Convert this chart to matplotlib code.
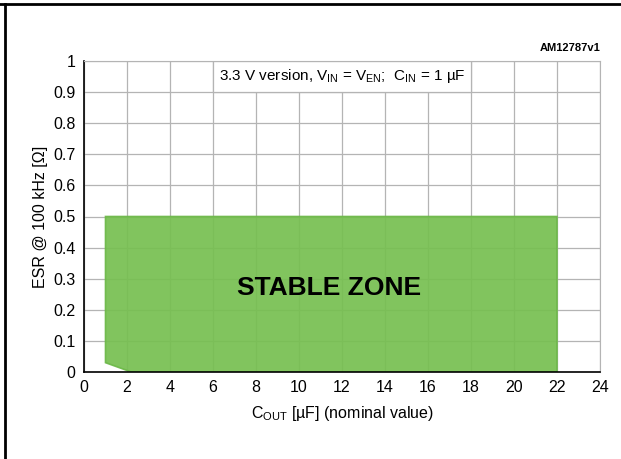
import matplotlib.pyplot as plt
from matplotlib.patches import Polygon, Rectangle

plt.rcParams["font.family"] = ["Liberation Sans", "DejaVu Sans"]

# stable-zone boundary (C_OUT in uF, ESR in ohm)
zone_x = [1.0, 2.2, 22.0, 22.0, 1.0]
zone_y = [0.03, 0.0, 0.0, 0.5, 0.5]

x_ticks = list(range(0, 25, 2))
y_ticks = [0, 0.1, 0.2, 0.3, 0.4, 0.5, 0.6, 0.7, 0.8, 0.9, 1]
y_tick_labels = ["0", "0.1", "0.2", "0.3", "0.4", "0.5", "0.6", "0.7", "0.8", "0.9", "1"]

GREEN = "#76bf50"
GRID = "#b4b4b4"

fig = plt.figure(figsize=(6.21, 4.59), dpi=100)
ax = fig.add_axes([84 / 621, 1 - 372 / 459, 516 / 621, 311 / 459])

ax.set_xlim(0, 24)
ax.set_ylim(0, 1)
ax.set_xticks(x_ticks)
ax.set_yticks(y_ticks)
ax.set_yticklabels(y_tick_labels)
ax.grid(True, color=GRID, linewidth=0.9)
ax.set_axisbelow(True)
ax.tick_params(length=0, labelsize=11.5, pad=6)

for side in ("top", "right"):
    ax.spines[side].set_color(GRID)
for side in ("left", "bottom"):
    ax.spines[side].set_color("black")
    ax.spines[side].set_linewidth(1.2)

ax.add_patch(Polygon(list(zip(zone_x, zone_y)), closed=True,
                     facecolor=GREEN, edgecolor="#6cb848", linewidth=1.2,
                     alpha=0.92, zorder=2))
ax.text(11.4, 0.27, "STABLE ZONE", fontsize=19, fontweight="bold",
        ha="center", va="center", zorder=3)

# condition box at the top of the plot
ax.add_patch(Rectangle((6, 0.9), 12, 0.1, facecolor="white",
                       edgecolor=GRID, linewidth=0.9, zorder=2))
ax.text(12, 0.953,
        r"3.3 V version, V$_{\mathregular{IN}}$ = V$_{\mathregular{EN}}$;  "
        r"C$_{\mathregular{IN}}$ = 1 µF",
        fontsize=11, ha="center", va="center", zorder=3)

ax.text(1.0, 1.025, "AM12787v1", transform=ax.transAxes, fontsize=8,
        fontweight="bold", ha="right", va="bottom")

ax.set_xlabel(r"C$_{\mathregular{OUT}}$ [µF] (nominal value)", fontsize=11.5, labelpad=6)
ax.set_ylabel("ESR @ 100 kHz [Ω]", fontsize=11.5, labelpad=4)

# page frame lines
fig.add_artist(plt.Line2D([0, 1], [1 - 4 / 459, 1 - 4 / 459], color="black",
                          linewidth=2, transform=fig.transFigure))
fig.add_artist(plt.Line2D([5 / 621, 5 / 621], [0, 1 - 4 / 459], color="black",
                          linewidth=2, transform=fig.transFigure))

fig.savefig("out.png", dpi=100)
